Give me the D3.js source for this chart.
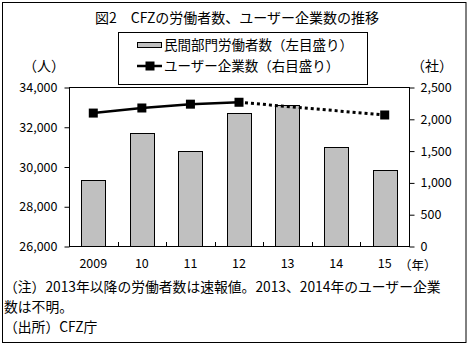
<!DOCTYPE html>
<html><head><meta charset="utf-8">
<script src="https://cdn.jsdelivr.net/npm/d3@7"></script>
<style>
html,body{margin:0;padding:0;background:#fff;}
svg text{font-family:"Noto Sans CJK JP","Noto Sans",sans-serif;fill:#000;}
</style></head>
<body><svg id="c" width="469" height="346"></svg>
<script>
const title = "図2　CFZの労働者数、ユーザー企業数の推移";
const years = ["2009","10","11","12","13","14","15"];
const workers = [29300, 31700, 30800, 32700, 33100, 31000, 29800];
const users = [2090, 2170, 2230, 2260, null, null, 2060];
const leftTicks = [26000, 28000, 30000, 32000, 34000];
const rightTicks = [0, 500, 1000, 1500, 2000, 2500];
const legendLabels = ["民間部門労働者数（左目盛り）", "ユーザー企業数（右目盛り）"];
const notes = ["（注）2013年以降の労働者数は速報値。2013、2014年のユーザー企業", "数は不明。", "（出所）CFZ庁"];

const svg = d3.select("#c");
const L = 69, R = 409, T = 87, B = 246;

svg.append("rect").attr("x",2.5).attr("y",2.5).attr("width",463.5).attr("height",340)
  .attr("fill","none").attr("stroke","#000").attr("stroke-width",1);

svg.append("text").attr("x",237).attr("y",23).attr("text-anchor","middle")
  .attr("font-size",14).text(title);

const x = d3.scaleBand().domain(years).range([L,R]).paddingInner(0.5).paddingOuter(0.25);
const yL = d3.scaleLinear().domain([26000,34000]).range([B,T]);
const yR = d3.scaleLinear().domain([0,2500]).range([B,T]);

// bars
svg.append("g").selectAll("rect").data(workers).join("rect")
  .attr("x",(d,i)=>Math.round(x(years[i]))+0.5)
  .attr("y",d=>Math.round(yL(d))+0.5)
  .attr("width",Math.round(x.bandwidth()))
  .attr("height",d=>B-Math.round(yL(d)))
  .attr("fill","#c0c0c0").attr("stroke","#000").attr("stroke-width",1);

// plot frame
svg.append("rect").attr("x",L+0.5).attr("y",T+0.5).attr("width",R-L).attr("height",B-T)
  .attr("fill","none").attr("stroke","#000").attr("stroke-width",1);

// left axis
const gl = svg.append("g").attr("transform",`translate(${L+0.5},0.5)`)
  .call(d3.axisLeft(yL).tickValues(leftTicks).tickSize(5).tickPadding(7).tickFormat(d3.format(",")));
gl.select(".domain").remove();
gl.selectAll("text").attr("font-size",12.5).style("font-family","'Noto Sans CJK JP',sans-serif");

const gr = svg.append("g").attr("transform",`translate(${R+0.5},0.5)`)
  .call(d3.axisRight(yR).tickValues(rightTicks).tickSize(5).tickPadding(6).tickFormat(d3.format(",")));
gr.select(".domain").remove();
gr.selectAll("text").attr("font-size",12.5).style("font-family","'Noto Sans CJK JP',sans-serif");

// bottom category ticks (between categories, pointing up)
const step = x.step();
svg.append("g").selectAll("line").data(years.slice(1)).join("line")
  .attr("x1",(d,i)=>Math.round(L+(i+1)*step)+0.5).attr("x2",(d,i)=>Math.round(L+(i+1)*step)+0.5)
  .attr("y1",B).attr("y2",B-4).attr("stroke","#000");

// x labels
svg.append("g").selectAll("text").data(years).join("text")
  .attr("x",d=>x(d)+x.bandwidth()/2).attr("y",268).attr("text-anchor","middle")
  .attr("font-size",12.5).text(d=>d);
svg.append("text").attr("x",399).attr("y",270).attr("font-size",12.5).text("（年）");

// unit labels
svg.append("text").attr("x",23).attr("y",71).attr("font-size",14).text("（人）");
svg.append("text").attr("x",411).attr("y",71).attr("font-size",14).text("（社）");

// line
const cx = i => x(years[i]) + x.bandwidth()/2;
const pts = users.map((v,i)=>({i,v})).filter(p=>p.v!==null);
const solid = [];
for (let k=0;k<pts.length;k++){ if (k===0 || pts[k].i===pts[k-1].i+1) solid.push(pts[k]); else break; }
const line = d3.line().x(p=>cx(p.i)).y(p=>yR(p.v));
svg.append("path").attr("d",line(solid)).attr("fill","none").attr("stroke","#000").attr("stroke-width",2.5);
const gapPts = [solid[solid.length-1], pts[solid.length]];
svg.append("path").attr("d",line(gapPts)).attr("fill","none").attr("stroke","#000")
  .attr("stroke-width",3).attr("stroke-dasharray","3,3");
svg.append("g").selectAll("rect").data(pts).join("rect")
  .attr("x",p=>cx(p.i)-4.5).attr("y",p=>yR(p.v)-4.5).attr("width",9).attr("height",9).attr("fill","#000");

// legend
const lg = svg.append("g");
lg.append("rect").attr("x",118.5).attr("y",32.5).attr("width",249).attr("height",52)
  .attr("fill","#fff").attr("stroke","#000");
lg.append("rect").attr("x",137.5).attr("y",42.5).attr("width",24).attr("height",5)
  .attr("fill","#c0c0c0").attr("stroke","#000");
lg.append("text").attr("x",164).attr("y",50).attr("font-size",13.5).text(legendLabels[0]);
lg.append("line").attr("x1",137).attr("x2",162).attr("y1",66).attr("y2",66).attr("stroke","#000").attr("stroke-width",2.5);
lg.append("rect").attr("x",145.5).attr("y",61.5).attr("width",9).attr("height",9).attr("fill","#000");
lg.append("text").attr("x",164).attr("y",71).attr("font-size",13.5).text(legendLabels[1]);

// notes
svg.append("g").selectAll("text").data(notes).join("text")
  .attr("x",4).attr("y",(d,i)=>292+i*20).attr("font-size",13.8).text(d=>d);
</script></body></html>
